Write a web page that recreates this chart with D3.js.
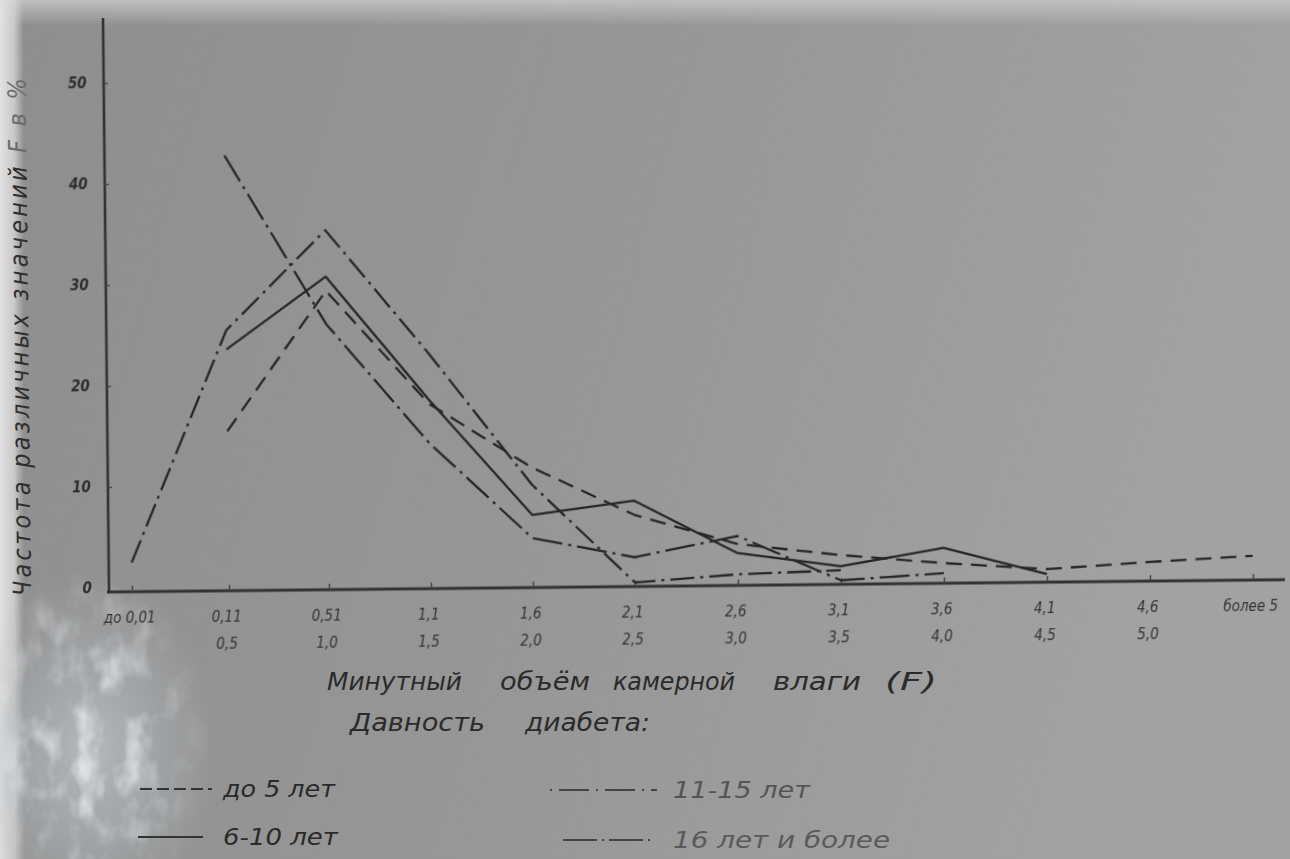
<!DOCTYPE html>
<html>
<head>
<meta charset="utf-8">
<script src="https://cdn.jsdelivr.net/npm/d3@7"></script>
<style>
html, body { margin: 0; padding: 0; background: #979797; overflow: hidden; }
svg { display: block; }
text { font-family: "DejaVu Sans Condensed", "DejaVu Sans", sans-serif; font-stretch: condensed; font-style: italic; }
</style>
</head>
<body>
<div class="chart"></div>
<script>
// Categories of F (two-row tick labels) and the four series, % of eyes
const categories = ["до 0,01", "0,11", "0,51", "1,1", "1,6", "2,1", "2,6", "3,1", "3,6", "4,1", "4,6", "более 5"];
const rangeTo = ["", "0,5", "1,0", "1,5", "2,0", "2,5", "3,0", "3,5", "4,0", "4,5", "5,0", ""];
const yTicks = [0, 10, 20, 30, 40, 50];

const upTo5 = [null, 15.4, 29.2, 17.9, 11.5, 6.7, 3.7, 2.5, 1.6, 0.9, 1.5, 2.0];
const y6to10 = [null, 23.5, 30.6, 18.3, 6.8, 8.1, 2.8, 1.4, 3.1, 0.4, null, null];
const y11to15 = [2.5, 25.4, 35.2, 22.9, 9.8, 0, 0.7, 1.0, null, null, null, null];
const y16plus = [null, 42.7, 25.9, 14.0, 4.5, 2.5, 4.5, 0, 0.6, null, null, null];

const seriesNames = ["до 5 лет", "6-10 лет", "11-15 лет", "16 лет и более"];

// Size, origin of the axes and the small tilt of the photographed sheet
const w = 1290;
const h = 859;
const ox = 109;
const oy = 592;
const tilt = -0.6;
const ink = "#272727";

const svg = d3.select(".chart").append("svg")
	.attr("width", w)
	.attr("height", h);

// Paper background: grey photo with lighter edges and a glare bottom-left
const defs = svg.append("defs");

const bg = defs.append("linearGradient").attr("id", "bg")
	.attr("x1", 0).attr("y1", 0).attr("x2", 1).attr("y2", 0.2);
bg.append("stop").attr("offset", 0).attr("stop-color", "#8e8e8e");
bg.append("stop").attr("offset", 0.5).attr("stop-color", "#969696");
bg.append("stop").attr("offset", 1).attr("stop-color", "#a2a2a2");

const topBand = defs.append("linearGradient").attr("id", "topBand")
	.attr("x1", 0).attr("y1", 0).attr("x2", 0).attr("y2", 1);
topBand.append("stop").attr("offset", 0).attr("stop-color", "#c4c4c4").attr("stop-opacity", 0.9);
topBand.append("stop").attr("offset", 1).attr("stop-color", "#c4c4c4").attr("stop-opacity", 0);

const leftBand = defs.append("linearGradient").attr("id", "leftBand")
	.attr("x1", 0).attr("y1", 0).attr("x2", 1).attr("y2", 0);
leftBand.append("stop").attr("offset", 0).attr("stop-color", "#e2e2e2").attr("stop-opacity", 1);
leftBand.append("stop").attr("offset", 0.6).attr("stop-color", "#d6d6d6").attr("stop-opacity", 0.8);
leftBand.append("stop").attr("offset", 1).attr("stop-color", "#cccccc").attr("stop-opacity", 0);

const glare = defs.append("radialGradient").attr("id", "glare");
glare.append("stop").attr("offset", 0).attr("stop-color", "#c2cad0").attr("stop-opacity", 0.7);
glare.append("stop").attr("offset", 0.55).attr("stop-color", "#b2babf").attr("stop-opacity", 0.4);
glare.append("stop").attr("offset", 1).attr("stop-color", "#a8aeb3").attr("stop-opacity", 0);

// soft mask so the mottled spots fade out at the edge
const fade = defs.append("radialGradient").attr("id", "fade");
fade.append("stop").attr("offset", 0).attr("stop-color", "#fff");
fade.append("stop").attr("offset", 0.5).attr("stop-color", "#aaa");
fade.append("stop").attr("offset", 1).attr("stop-color", "#000");
defs.append("mask").attr("id", "fadeMask")
	.append("ellipse")
	.attr("cx", 90).attr("cy", 740)
	.attr("rx", 120).attr("ry", 180)
	.attr("fill", "url(#fade)");

const mottle = defs.append("filter").attr("id", "mottle")
	.attr("x", 0).attr("y", 0).attr("width", 1).attr("height", 1);
mottle.append("feTurbulence")
	.attr("type", "fractalNoise")
	.attr("baseFrequency", "0.04 0.025")
	.attr("numOctaves", 3)
	.attr("seed", 4)
	.attr("result", "noise");
mottle.append("feColorMatrix")
	.attr("in", "noise")
	.attr("type", "matrix")
	.attr("values", "0 0 0 0 0.88  0 0 0 0 0.91  0 0 0 0 0.94  2.2 0 0 0 -1.0")
	.attr("result", "spots");
mottle.append("feComposite")
	.attr("in", "spots")
	.attr("in2", "SourceGraphic")
	.attr("operator", "in");

defs.append("filter").attr("id", "soft")
	.append("feGaussianBlur").attr("stdDeviation", 0.5);

svg.append("rect").attr("width", w).attr("height", h).attr("fill", "url(#bg)");
svg.append("rect").attr("width", w).attr("height", 26).attr("fill", "url(#topBand)");
svg.append("rect").attr("width", 24).attr("height", h).attr("fill", "url(#leftBand)");
svg.append("ellipse")
	.attr("cx", 90).attr("cy", 750)
	.attr("rx", 130).attr("ry", 180)
	.attr("fill", "url(#glare)");
svg.append("rect")
	.attr("x", -40).attr("y", 560)
	.attr("width", 260).attr("height", 320)
	.attr("fill", "#fff")
	.attr("filter", "url(#mottle)")
	.attr("mask", "url(#fadeMask)");

// Plot group, rotated slightly like the photographed page
const g = svg.append("g")
	.attr("transform", `translate(${ox},${oy}) rotate(${tilt})`)
	.attr("filter", "url(#soft)");

const xScale = d3.scaleLinear()
	.domain([0, 1, 2, 5, 11])
	.range([23, 120, 220, 526, 1144]);

const yScale = d3.scaleLinear()
	.domain([0, 50])
	.range([-4, -509]);

// Axis lines
g.append("line")
	.attr("x1", 0).attr("y1", 0).attr("x2", 0).attr("y2", -574)
	.attr("stroke", "#333").attr("stroke-width", 2.6);
g.append("line")
	.attr("x1", -2).attr("y1", 0).attr("x2", 1176).attr("y2", 0)
	.attr("stroke", "#333").attr("stroke-width", 2.8);

// Y axis ticks and labels
const yAxis = d3.axisLeft(yScale)
	.tickValues(yTicks)
	.tickSize(-4)
	.tickPadding(17)
	.tickFormat(d3.format("d"));

const yg = g.append("g").call(yAxis);
yg.select(".domain").remove();
yg.selectAll(".tick line").attr("stroke", "#444").attr("stroke-width", 1.5)
	.filter(d => d === 0).remove();
yg.selectAll(".tick text")
	.attr("fill", "#2e2e2e")
	.attr("font-size", 15)
	.attr("font-weight", "bold")
	.style("font-family", "\"DejaVu Sans Condensed\", \"DejaVu Sans\", sans-serif");

// X axis ticks with two-row interval labels
const xAxis = d3.axisBottom(xScale)
	.tickValues(d3.range(categories.length))
	.tickSize(-6)
	.tickSizeOuter(0)
	.tickFormat(i => categories[i]);

const xg = g.append("g").call(xAxis);
xg.select(".domain").remove();
xg.selectAll(".tick line").attr("stroke", "#444").attr("stroke-width", 1.5);
xg.selectAll(".tick text")
	.attr("fill", "#333")
	.attr("font-size", 15)
	.attr("y", 20)
	.attr("dx", -3)
	.style("font-family", "\"DejaVu Sans Condensed\", \"DejaVu Sans\", sans-serif")
	.each(function(i) {
		if (rangeTo[i] !== "") {
			d3.select(this).append("tspan")
				.attr("x", 0)
				.attr("dx", -3)
				.attr("dy", "1.8em")
				.text(rangeTo[i]);
		}
	});

// Series lines
const line = d3.line()
	.defined(d => d !== null)
	.x((d, i) => xScale(i))
	.y(d => yScale(d));

const series = [
	{ name: seriesNames[0], values: upTo5, dash: "16,9", legendDash: "12,5" },
	{ name: seriesNames[1], values: y6to10, dash: null, legendDash: null },
	{ name: seriesNames[2], values: y11to15, dash: "24,6,3,6", legendDash: "2,7,30,7" },
	{ name: seriesNames[3], values: y16plus, dash: "30,6,3,6", legendDash: "34,5,2,5" }
];

g.selectAll("path.series")
	.data(series)
	.enter()
	.append("path")
	.attr("class", "series")
	.attr("d", d => line(d.values))
	.attr("fill", "none")
	.attr("stroke", ink)
	.attr("stroke-width", 2.3)
	.attr("stroke-linejoin", "round")
	.attr("stroke-dasharray", d => d.dash);

// Axis titles
svg.append("text")
	.attr("transform", "translate(31,596) rotate(-90.6)")
	.attr("font-size", 25)
	.attr("fill", "#2f2f2f")
	.attr("textLength", 518)
	.attr("lengthAdjust", "spacing")
	.text("Частота различных значений ")
	.append("tspan")
	.attr("fill", "#6c6c6c")
	.text("F в %");

const xTitle = [
	{ word: "Минутный", x: 327, len: 135 },
	{ word: "объём", x: 500, len: 90 },
	{ word: "камерной", x: 613, len: 122 },
	{ word: "влаги", x: 773, len: 88 },
	{ word: "(F)", x: 885, len: 52 }
];
svg.selectAll("text.xtitle")
	.data(xTitle)
	.enter()
	.append("text")
	.attr("class", "xtitle")
	.attr("x", d => d.x)
	.attr("y", 690)
	.attr("font-size", 24)
	.attr("fill", "#2b2b2b")
	.attr("textLength", d => d.len)
	.attr("lengthAdjust", "spacingAndGlyphs")
	.text(d => d.word);

const legendTitle = [
	{ word: "Давность", x: 350, len: 135 },
	{ word: "диабета:", x: 525, len: 125 }
];
svg.selectAll("text.ltitle")
	.data(legendTitle)
	.enter()
	.append("text")
	.attr("class", "ltitle")
	.attr("x", d => d.x)
	.attr("y", 731)
	.attr("font-size", 24)
	.attr("fill", "#2b2b2b")
	.attr("textLength", d => d.len)
	.attr("lengthAdjust", "spacingAndGlyphs")
	.text(d => d.word);

// Legend
const legendPos = [
	{ x1: 140, x2: 212, y: 789, tx: 223, len: 112, col: "#2a2a2a" },
	{ x1: 138, x2: 203, y: 837, tx: 223, len: 115, col: "#2a2a2a" },
	{ x1: 550, x2: 657, y: 790, tx: 673, len: 137, col: "#555" },
	{ x1: 563, x2: 653, y: 840, tx: 673, len: 217, col: "#5a5a5a" }
];

const legend = svg.selectAll("g.legend")
	.data(series)
	.enter()
	.append("g")
	.attr("class", "legend");

legend.append("line")
	.attr("x1", (d, i) => legendPos[i].x1)
	.attr("x2", (d, i) => legendPos[i].x2)
	.attr("y1", (d, i) => legendPos[i].y)
	.attr("y2", (d, i) => legendPos[i].y)
	.attr("stroke", (d, i) => i < 2 ? "#333" : "#444")
	.attr("stroke-width", 2)
	.attr("stroke-dasharray", d => d.legendDash);

legend.append("text")
	.attr("x", (d, i) => legendPos[i].tx)
	.attr("y", (d, i) => legendPos[i].y + 8)
	.attr("font-size", 23)
	.attr("fill", (d, i) => legendPos[i].col)
	.attr("textLength", (d, i) => legendPos[i].len)
	.attr("lengthAdjust", "spacingAndGlyphs")
	.text(d => d.name);
</script>
</body>
</html>
